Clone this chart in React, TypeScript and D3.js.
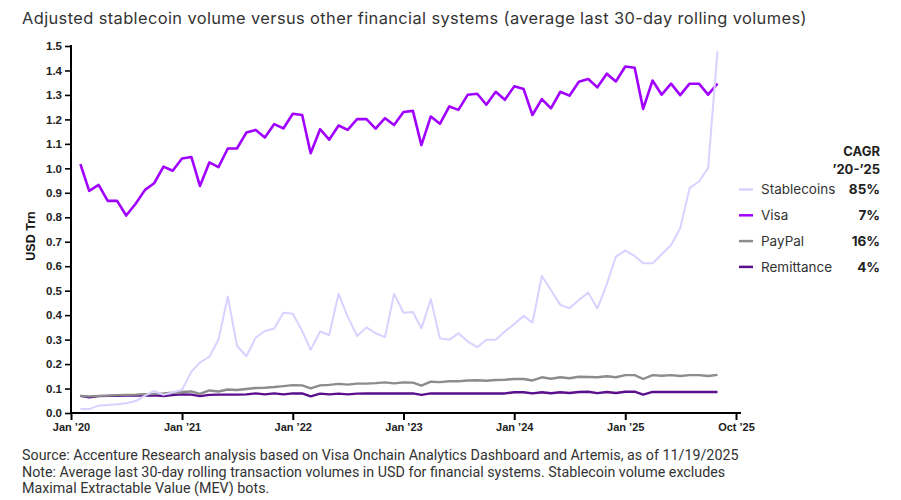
import React, { useEffect, useRef } from 'react';
import * as d3 from 'd3';

// monthly points, Feb 2020 .. Nov 2025 (USD Trn)
const stablecoins = [
  0.016, 0.016, 0.030, 0.033, 0.036, 0.040, 0.049, 0.071, 0.090, 0.074, 0.085, 0.094,
  0.169, 0.206, 0.230, 0.299, 0.476, 0.275, 0.232, 0.308, 0.335, 0.345, 0.410, 0.406,
  0.335, 0.258, 0.333, 0.319, 0.487, 0.394, 0.315, 0.350, 0.326, 0.310, 0.487, 0.410,
  0.413, 0.346, 0.465, 0.305, 0.299, 0.326, 0.292, 0.269, 0.299, 0.299, 0.333, 0.364,
  0.397, 0.369, 0.560, 0.503, 0.442, 0.428, 0.462, 0.492, 0.427, 0.526, 0.639, 0.664,
  0.642, 0.612, 0.612, 0.649, 0.687, 0.755, 0.919, 0.946, 1.001, 1.478,
];
const visa = [
  1.017, 0.908, 0.932, 0.867, 0.867, 0.807, 0.855, 0.912, 0.939, 1.007, 0.990, 1.040,
  1.046, 0.928, 1.024, 1.005, 1.081, 1.081, 1.146, 1.157, 1.126, 1.181, 1.163, 1.223,
  1.218, 1.062, 1.160, 1.117, 1.175, 1.157, 1.201, 1.201, 1.162, 1.205, 1.177, 1.230,
  1.235, 1.095, 1.212, 1.182, 1.253, 1.239, 1.301, 1.305, 1.260, 1.313, 1.280, 1.335,
  1.324, 1.218, 1.283, 1.245, 1.313, 1.297, 1.354, 1.365, 1.331, 1.387, 1.355, 1.416,
  1.411, 1.243, 1.359, 1.301, 1.346, 1.299, 1.346, 1.346, 1.301, 1.346,
];
const paypal = [
  0.070, 0.068, 0.070, 0.071, 0.073, 0.074, 0.075, 0.077, 0.078, 0.080, 0.083, 0.086,
  0.088, 0.078, 0.092, 0.088, 0.096, 0.094, 0.098, 0.102, 0.103, 0.106, 0.110, 0.114,
  0.113, 0.101, 0.113, 0.115, 0.119, 0.116, 0.120, 0.120, 0.122, 0.125, 0.121, 0.125,
  0.124, 0.112, 0.128, 0.126, 0.130, 0.130, 0.133, 0.134, 0.132, 0.135, 0.136, 0.139,
  0.139, 0.133, 0.146, 0.140, 0.146, 0.142, 0.148, 0.147, 0.146, 0.150, 0.146, 0.155,
  0.155, 0.139, 0.155, 0.152, 0.155, 0.151, 0.155, 0.155, 0.151, 0.156,
];
const remittance = [
  0.070, 0.064, 0.069, 0.070, 0.070, 0.071, 0.071, 0.071, 0.072, 0.069, 0.073, 0.076,
  0.075, 0.069, 0.074, 0.075, 0.075, 0.075, 0.076, 0.080, 0.076, 0.080, 0.076, 0.080,
  0.080, 0.068, 0.079, 0.076, 0.079, 0.076, 0.079, 0.080, 0.080, 0.080, 0.080, 0.080,
  0.080, 0.074, 0.080, 0.080, 0.080, 0.080, 0.080, 0.080, 0.080, 0.080, 0.080, 0.085,
  0.085, 0.080, 0.085, 0.081, 0.085, 0.082, 0.086, 0.087, 0.081, 0.086, 0.082, 0.087,
  0.087, 0.075, 0.086, 0.086, 0.086, 0.086, 0.086, 0.086, 0.086, 0.086,
];

const seriesNames = ['Stablecoins', 'Visa', 'PayPal', 'Remittance'];
const seriesCagr = ['85%', '7%', '16%', '4%'];
const seriesColors = ['#d9d1ff', '#a100ff', '#8c8c8c', '#5a0f8c'];
const seriesWidths = [2, 2.6, 2.4, 2.4];

const xTickDates = [
  new Date(2020, 0, 1), new Date(2021, 0, 1), new Date(2022, 0, 1), new Date(2023, 0, 1),
  new Date(2024, 0, 1), new Date(2025, 0, 1), new Date(2026, 0, 1),
];
const xTickLabels = ['Jan ’20', 'Jan ’21', 'Jan ’22', 'Jan ’23', 'Jan ’24', 'Jan ’25', 'Oct ’25'];
const yTicks = d3.range(0, 16).map(d => d / 10);

const months = visa.map((_, i) => new Date(2020, 1 + i, 1));

const App: React.FC = () => {
  const ref = useRef<SVGSVGElement | null>(null);

  useEffect(() => {
    const svg = d3.select(ref.current);
    svg.selectAll('*').remove();

    const x = d3.scaleTime()
      .domain([xTickDates[0], xTickDates[xTickDates.length - 1]])
      .range([71, 736]);
    const y = d3.scaleLinear().domain([0, 1.5]).range([413, 46]);

    svg.append('text')
      .attr('x', 22).attr('y', 24)
      .attr('font-family', 'Inter, sans-serif').attr('font-size', 16.4)
      .attr('letter-spacing', 0.4)
      .attr('fill', '#333')
      .text('Adjusted stablecoin volume versus other financial systems (average last 30-day rolling volumes)');

    // y axis
    const yAxis = svg.append('g')
      .attr('transform', 'translate(71,0)')
      .call(d3.axisLeft(y).tickValues(yTicks).tickFormat(d3.format('.1f')).tickSize(6).tickSizeOuter(0));
    yAxis.select('.domain').attr('stroke', '#000').attr('stroke-width', 2)
      .attr('d', `M0,${y(0)}V${y(1.5) - 1}`);
    yAxis.selectAll('.tick line').attr('stroke', '#000').attr('stroke-width', 1.6);
    yAxis.selectAll('.tick text')
      .attr('font-family', '"Liberation Sans", Arial, sans-serif').attr('font-size', 11.5)
      .attr('font-weight', 'bold').attr('fill', '#222').attr('x', -9);

    svg.append('text')
      .attr('transform', 'translate(35,236) rotate(-90)')
      .attr('text-anchor', 'middle')
      .attr('font-family', '"Liberation Sans", Arial, sans-serif').attr('font-size', 12.5)
      .attr('font-weight', 'bold').attr('fill', '#111')
      .text('USD Trn');

    // x axis
    const xAxis = svg.append('g')
      .attr('transform', `translate(0,${y(0)})`)
      .call(d3.axisBottom(x).tickValues(xTickDates)
        .tickFormat((_, i) => xTickLabels[i]).tickSize(7).tickSizeOuter(0));
    xAxis.select('.domain').attr('stroke', '#000').attr('stroke-width', 2)
      .attr('d', 'M70,0H741');
    xAxis.selectAll('.tick line').attr('stroke', '#000').attr('stroke-width', 2);
    xAxis.selectAll('.tick text')
      .attr('font-family', '"Liberation Sans", Arial, sans-serif').attr('font-size', 11)
      .attr('font-weight', 'bold').attr('fill', '#222').attr('y', 10);

    // lines
    const series = [stablecoins, visa, paypal, remittance];
    const line = d3.line<number>()
      .x((_, i) => x(months[i]))
      .y(d => y(d));
    const order = [3, 2, 1, 0];
    order.forEach(k => {
      svg.append('path')
        .datum(series[k])
        .attr('fill', 'none')
        .attr('stroke', seriesColors[k])
        .attr('stroke-width', seriesWidths[k])
        .attr('stroke-linejoin', 'round')
        .attr('d', line);
    });

    // legend
    const lg = svg.append('g').attr('font-family', 'Inter, sans-serif');
    lg.append('text').attr('x', 880).attr('y', 156).attr('text-anchor', 'end')
      .attr('font-size', 13).attr('font-weight', 'bold').attr('fill', '#222').text('CAGR');
    lg.append('text').attr('x', 880).attr('y', 174).attr('text-anchor', 'end')
      .attr('font-size', 13).attr('font-weight', 'bold').attr('fill', '#222').text('’20-’25');
    seriesNames.forEach((name, i) => {
      const cy = 189.5 + i * 25.8;
      lg.append('line').attr('x1', 739).attr('x2', 753).attr('y1', cy).attr('y2', cy)
        .attr('stroke', seriesColors[i]).attr('stroke-width', 2.5);
      lg.append('text').attr('x', 761).attr('y', cy + 4.8)
        .attr('font-size', 13.5).attr('fill', '#333').text(name);
      lg.append('text').attr('x', 880).attr('y', cy + 4.8).attr('text-anchor', 'end')
        .attr('font-size', 13.5).attr('font-weight', 'bold').attr('fill', '#222').text(seriesCagr[i]);
    });

    // footnotes
    const notes = [
      'Source: Accenture Research analysis based on Visa Onchain Analytics Dashboard and Artemis, as of 11/19/2025',
      'Note: Average last 30-day rolling transaction volumes in USD for financial systems. Stablecoin volume excludes',
      'Maximal Extractable Value (MEV) bots.',
    ];
    notes.forEach((t, i) => {
      svg.append('text').attr('x', 22).attr('y', 460 + i * 16.5)
        .attr('font-family', 'Roboto, sans-serif').attr('font-size', 14.3)
        .attr('fill', '#333').text(t);
    });
  }, []);

  return (
    <svg ref={ref} width={901} height={500}
      style={{ position: 'absolute', left: 0, top: 0, background: '#fff' }} />
  );
};

export default App;
